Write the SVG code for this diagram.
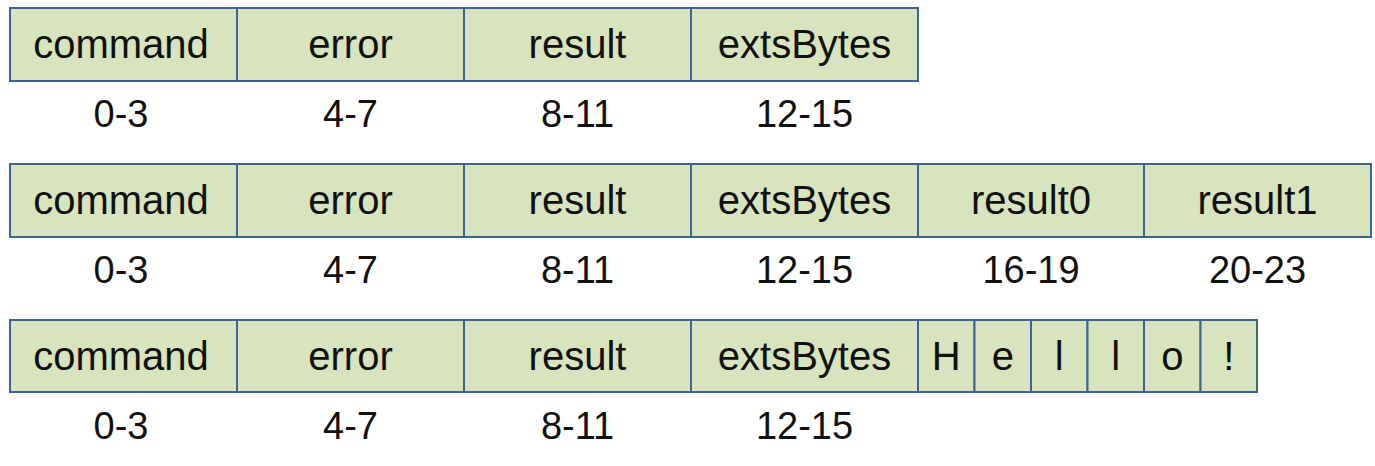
<svg xmlns="http://www.w3.org/2000/svg" width="1375" height="466" viewBox="0 0 1375 466">
<style>
.cell{fill:#D7E4BD;stroke:#3E6494;stroke-width:2}
.t{font-family:"Liberation Sans",Arial,sans-serif;font-size:40px;fill:#111;text-anchor:middle}
.n{font-family:"Liberation Sans",Arial,sans-serif;font-size:38px;fill:#111;text-anchor:middle}
</style>
<rect width="1375" height="466" fill="#fff"/>
<g id="row1">
<g id="r1-command"><rect class="cell" x="10" y="8" width="227" height="73"/><text class="t" x="121" y="58">command</text></g>
<g id="r1-error"><rect class="cell" x="237" y="8" width="227" height="73"/><text class="t" x="350.5" y="58">error</text></g>
<g id="r1-result"><rect class="cell" x="464" y="8" width="227" height="73"/><text class="t" x="577.5" y="58">result</text></g>
<g id="r1-exts"><rect class="cell" x="691" y="8" width="227" height="73"/><text class="t" x="804.5" y="58">extsBytes</text></g>
<g id="r1-labels"><text class="n" x="121" y="127">0-3</text><text class="n" x="350.5" y="127">4-7</text><text class="n" x="577.5" y="127">8-11</text><text class="n" x="804.5" y="127">12-15</text></g>
</g>
<g id="row2">
<g id="r2-command"><rect class="cell" x="10" y="164" width="227" height="73"/><text class="t" x="121" y="214">command</text></g>
<g id="r2-error"><rect class="cell" x="237" y="164" width="227" height="73"/><text class="t" x="350.5" y="214">error</text></g>
<g id="r2-result"><rect class="cell" x="464" y="164" width="227" height="73"/><text class="t" x="577.5" y="214">result</text></g>
<g id="r2-exts"><rect class="cell" x="691" y="164" width="227" height="73"/><text class="t" x="804.5" y="214">extsBytes</text></g>
<g id="r2-result0"><rect class="cell" x="918" y="164" width="226" height="73"/><text class="t" x="1031" y="214">result0</text></g>
<g id="r2-result1"><rect class="cell" x="1144" y="164" width="227" height="73"/><text class="t" x="1257.5" y="214">result1</text></g>
<g id="r2-labels"><text class="n" x="121" y="283">0-3</text><text class="n" x="350.5" y="283">4-7</text><text class="n" x="577.5" y="283">8-11</text><text class="n" x="804.5" y="283">12-15</text><text class="n" x="1031" y="283">16-19</text><text class="n" x="1257.5" y="283">20-23</text></g>
</g>
<g id="row3">
<g id="r3-command"><rect class="cell" x="10" y="320" width="227" height="72"/><text class="t" x="121" y="370">command</text></g>
<g id="r3-error"><rect class="cell" x="237" y="320" width="227" height="72"/><text class="t" x="350.5" y="370">error</text></g>
<g id="r3-result"><rect class="cell" x="464" y="320" width="227" height="72"/><text class="t" x="577.5" y="370">result</text></g>
<g id="r3-exts"><rect class="cell" x="691" y="320" width="227" height="72"/><text class="t" x="804.5" y="370">extsBytes</text></g>
<g id="r3-H"><rect class="cell" x="918" y="320" width="56.5" height="72"/><text class="t" x="946.25" y="370">H</text></g>
<g id="r3-e"><rect class="cell" x="974.5" y="320" width="56.5" height="72"/><text class="t" x="1002.75" y="370">e</text></g>
<g id="r3-l1"><rect class="cell" x="1031" y="320" width="56.5" height="72"/><text class="t" x="1059.25" y="370">l</text></g>
<g id="r3-l2"><rect class="cell" x="1087.5" y="320" width="56.5" height="72"/><text class="t" x="1115.75" y="370">l</text></g>
<g id="r3-o"><rect class="cell" x="1144" y="320" width="56.5" height="72"/><text class="t" x="1172.25" y="370">o</text></g>
<g id="r3-excl"><rect class="cell" x="1200.5" y="320" width="56.5" height="72"/><text class="t" x="1228.75" y="370">!</text></g>
<g id="r3-labels"><text class="n" x="121" y="439">0-3</text><text class="n" x="350.5" y="439">4-7</text><text class="n" x="577.5" y="439">8-11</text><text class="n" x="804.5" y="439">12-15</text></g>
</g>
<g id="connectors"/>
</svg>
